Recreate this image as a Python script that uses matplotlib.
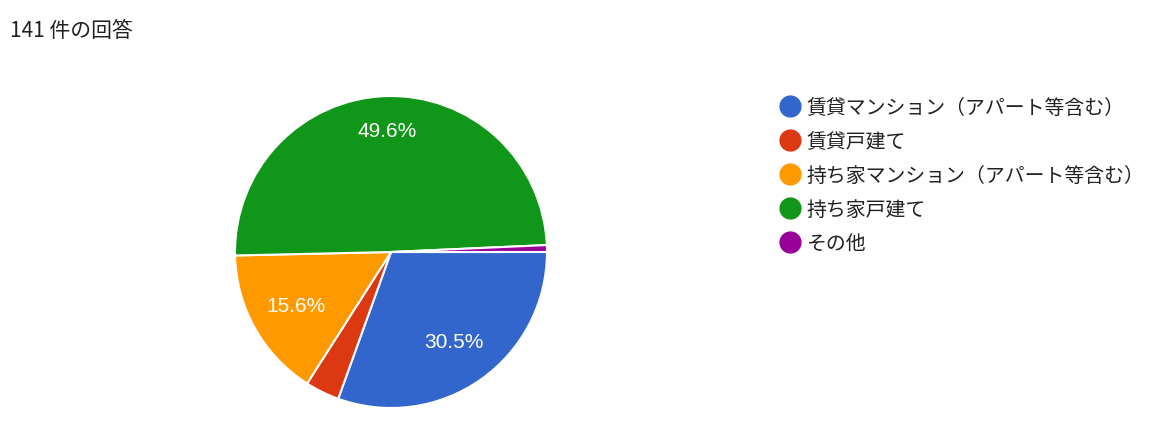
import matplotlib
matplotlib.use("Agg")
import matplotlib.pyplot as plt
from matplotlib.lines import Line2D

plt.rcParams['font.family'] = ['Noto Sans CJK JP', 'DejaVu Sans']

title = "141 件の回答"
labels = ["賃貸マンション（アパート等含む）", "賃貸戸建て",
          "持ち家マンション（アパート等含む）", "持ち家戸建て", "その他"]
counts = [43, 5, 22, 70, 1]
colors = ["#3366cc", "#dc3912", "#ff9900", "#109618", "#990099"]

W, H = 1171, 427
fig = plt.figure(figsize=(W / 100, H / 100), dpi=100)

# pie centre (391, 253) px, radius 156 px
cx, cy, r = 391, 253, 156
ax = fig.add_axes([(cx - r) / W, (H - cy - r) / H, 2 * r / W, 2 * r / H])

def pct_fmt(p):
    return f"{p:.1f}%" if p >= 5 else ""

wedges, texts, autotexts = ax.pie(
    counts, colors=colors, startangle=0, counterclock=False,
    autopct=pct_fmt, pctdistance=0.7,
    wedgeprops=dict(edgecolor="white", linewidth=1.5),
    textprops=dict(color="white", fontsize=15, family=["Liberation Sans", "DejaVu Sans"]),
)
# green label sits a bit further out
x, y = autotexts[3].get_position()
autotexts[3].set_position((x * 0.78 / 0.7, y * 0.78 / 0.7))
ax.set_xlim(-1, 1)
ax.set_ylim(-1, 1)
ax.set_aspect("equal")
ax.axis("off")

fig.text(10 / W, 1 - 31 / H, title, fontsize=15, color="#212121", va="center", ha="left")

handles = [Line2D([], [], marker="o", linestyle="", markersize=15,
                  markerfacecolor=c, markeredgecolor=c) for c in colors]
fig.legend(handles, labels, loc="upper left", bbox_to_anchor=(768 / W, 1 - 88 / H),
           frameon=False, fontsize=14.3, labelcolor="#212121",
           handletextpad=0.25, labelspacing=0.66, handlelength=1.2, borderpad=0)

fig.savefig("out.png", dpi=100, facecolor="white")
